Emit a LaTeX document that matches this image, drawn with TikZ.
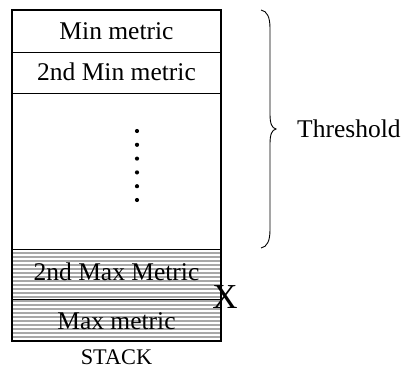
\documentclass[tikz,border=0pt]{standalone}
\usepackage{fontspec}
\setmainfont{Liberation Serif}
\definecolor{hatchgray}{RGB}{168,168,168}
\tikzset{
  boxtext/.style={anchor=base, font=\fontsize{25.5}{28}\selectfont, inner sep=0pt},
  sidetext/.style={anchor=base west, font=\fontsize{25.5}{28}\selectfont, inner sep=0pt},
  thinline/.style={line width=1pt},
  outerline/.style={line width=2.6pt},
  dot/.style={circle, fill=black, inner sep=0pt, minimum size=4.2pt},
}
\begin{document}
\begin{tikzpicture}[x=1pt,y=-1pt]
\useasboundingbox (0,0) rectangle (405,372);
% hatched region
\fill[hatchgray] (12,249) rectangle (221,341);
\foreach \yy in {251,255,...,340} {
  \draw[white, line width=1.1pt] (12,\yy) -- (221,\yy);
}
% inner separators
\draw[thinline] (12,52) -- (221,52);
\draw[thinline] (12,93) -- (221,93);
\draw[thinline] (12,249) -- (221,249);
\draw[thinline] (12,299) -- (221,299);
% outer border
\draw[outerline] (12,10) rectangle (221,341);
% texts
\node[boxtext] (min) at (116.5,39) {Min metric};
\node[boxtext] (min2) at (116.5,81) {2nd Min metric};
\node[boxtext] (max2) at (116.5,280) {2nd Max Metric};
\node[boxtext] (max) at (116.5,329) {Max metric};
\node[anchor=base, font=\fontsize{22.3}{25}\selectfont, inner sep=0pt] (stack) at (116.5,364) {STACK};
\node[anchor=base, font=\fontsize{35}{38}\selectfont, inner sep=0pt] (x) at (225,308) {X};
\node[sidetext] (thr) at (297,137) {Threshold};
% dots
\foreach \i/\yy in {1/131,2/144.8,3/158.6,4/172.4,5/186.2,6/200} {
  \node[dot] (d\i) at (137,\yy) {};
}
% brace
\draw[line width=0.9pt] (261,10) .. controls (267,11) and (270,17) .. (270,28)
  -- (270,114) .. controls (270,124) and (272,128) .. (276,129)
  .. controls (272,130) and (270,134) .. (270,144)
  -- (270,230) .. controls (270,241) and (267,247) .. (261,248);
\end{tikzpicture}
\end{document}
